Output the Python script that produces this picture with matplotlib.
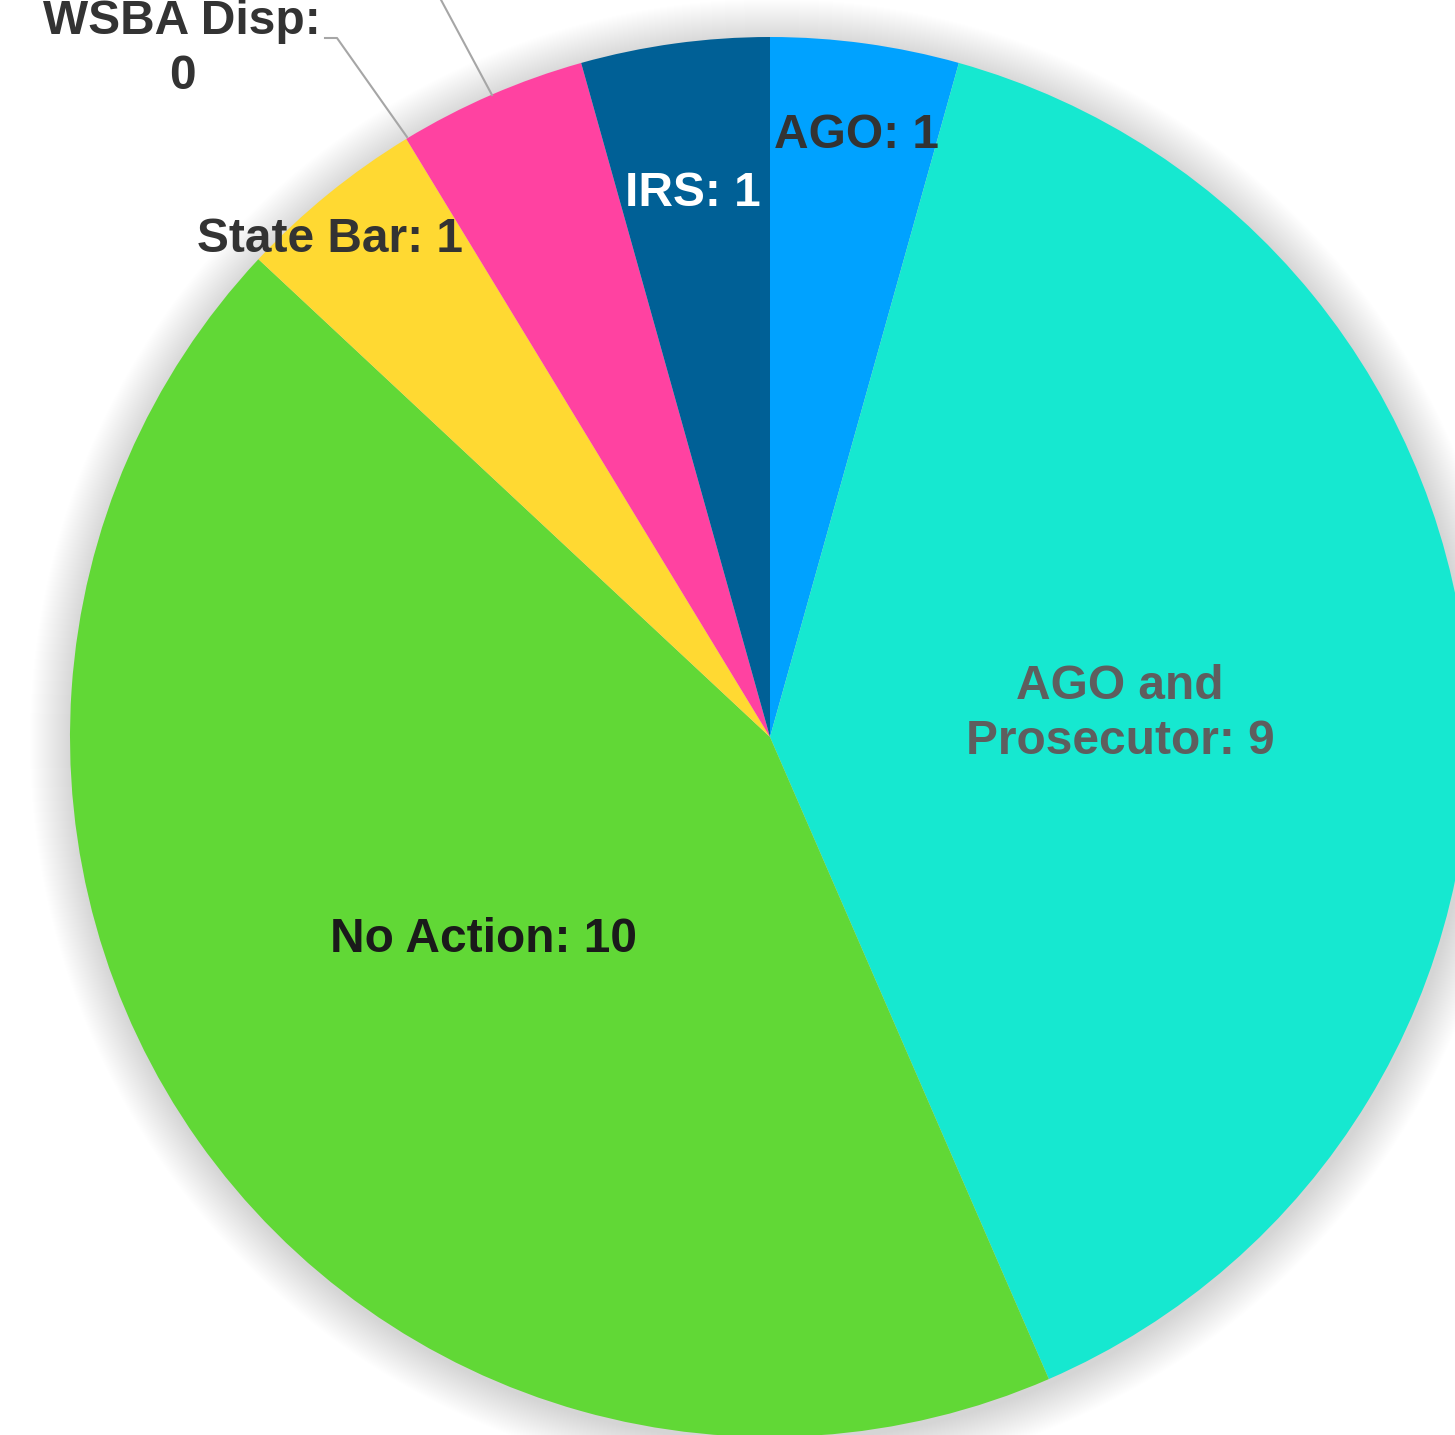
import matplotlib.pyplot as plt
from matplotlib.patches import Circle

# データ
labels = ["AGO", "AGO and\nProsecutor", "No Action", "State Bar", "WSBA Disp", "Other", "IRS"]
values = [1, 9, 10, 1, 0, 1, 1]
colors = ["#00A2FF", "#16E8D0", "#61D836", "#FFD932", "#FFD932", "#FF42A1", "#006096"]
text_colors = ["#333333", "#5E5E5E", "#1A1A1A", "#333333", "#333333", "#333333", "#FFFFFF"]

# 画像座標 (px) でのレイアウト
W, H = 1455, 1435
cx, cy, R = 770, H - 737, 700

fig = plt.figure(figsize=(W / 100, H / 100), dpi=100)
ax = fig.add_axes([0, 0, 1, 1])

# ぼかし影
for i in range(42, 0, -1):
    ax.add_patch(Circle((cx + 2, cy - 4), R + i, color="black", alpha=0.005, lw=0, zorder=0))

ax.pie(values, colors=colors, startangle=90, counterclock=False,
       center=(cx, cy), radius=R, frame=True,
       wedgeprops=dict(linewidth=0, zorder=1))
ax.set_xlim(0, W)
ax.set_ylim(0, H)
ax.set_aspect("equal")
ax.axis("off")

# ラベル位置 (px, 上から)
label_pos = {
    "AGO": (857, 136),
    "AGO and\nProsecutor": (1120, 714),
    "No Action": (484, 940),
    "State Bar": (330, 240),
    "WSBA Disp": (182, 49),
    "IRS": (693, 194),
}

font = dict(family="Liberation Sans", fontsize=34.5, fontweight="bold")
for lab, val, tc in zip(labels, values, text_colors):
    if lab not in label_pos:
        continue
    x, y = label_pos[lab]
    sep = "\n" if lab == "WSBA Disp" else " "
    ax.text(x, H - y, f"{lab}:{sep}{val}", ha="center", va="center", color=tc,
            linespacing=1.3, zorder=5, **font)

# 引き出し線
ax.plot([325, 337, 407], [H - 38, H - 38, H - 137], color="#A6A6A6", lw=1.5, zorder=3)
ax.plot([440, 492], [H + 2, H - 95], color="#A6A6A6", lw=1.5, zorder=3)

plt.savefig("out.png", dpi=100)
